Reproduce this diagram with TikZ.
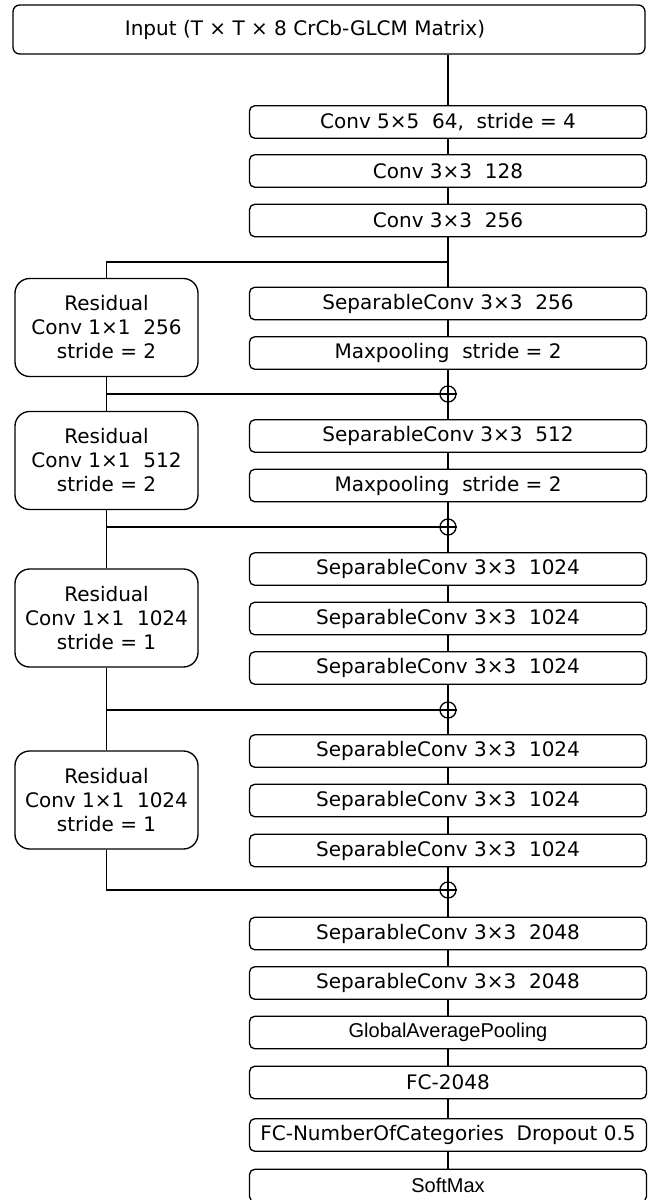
\documentclass[tikz,border=0pt]{standalone}
\usepackage{fontspec}
\setmainfont{DejaVu Sans}
\newfontfamily\arialfont{Liberation Sans}
\begin{document}
\begin{tikzpicture}[x=0.75pt,y=-0.75pt,line width=1pt,
  box/.style={draw,line width=1pt,rounded corners=4pt,minimum width=297.75pt,minimum height=24.4pt,inner sep=0pt,font=\fontsize{15}{18}\selectfont},
  inbox/.style={draw,line width=1pt,rounded corners=5pt,minimum width=474pt,minimum height=36.75pt,inner sep=0pt,font=\fontsize{15}{18}\selectfont},
  resbox/.style={draw,line width=1pt,rounded corners=11pt,minimum width=137.25pt,minimum height=73.5pt,inner sep=0pt,align=center,font=\fontsize{15}{18}\selectfont},
  sumnode/.style={draw,circle,line width=1pt,minimum size=12pt,inner sep=0pt},
  arialtext/.style={font=\fontsize{15}{18}\selectfont\arialfont}]
\useasboundingbox (0,0) rectangle (653,1200);
% main column
\node[inbox] (in) at (329,29.5) {Input (T × T × 8 CrCb-GLCM Matrix)\hspace*{36pt}};
\node[box] (c1) at (448,122) {Conv 5×5\ \ 64,\ \ stride = 4};
\node[box] (c2) at (448,171) {Conv 3×3\ \ 128};
\node[box] (c3) at (448,220.5) {Conv 3×3\ \ 256};
\node[box] (s1) at (448,303.5) {SeparableConv 3×3\ \ 256};
\node[box] (m1) at (448,353) {Maxpooling\ \ stride = 2};
\node[sumnode] (p1) at (448,394) {};
\node[box] (s2) at (448,436) {SeparableConv 3×3\ \ 512};
\node[box] (m2) at (448,485.5) {Maxpooling\ \ stride = 2};
\node[sumnode] (p2) at (448,527) {};
\node[box] (s3) at (448,569) {SeparableConv 3×3\ \ 1024};
\node[box] (s4) at (448,618.5) {SeparableConv 3×3\ \ 1024};
\node[box] (s5) at (448,668) {SeparableConv 3×3\ \ 1024};
\node[sumnode] (p3) at (448,710) {};
\node[box] (s6) at (448,751) {SeparableConv 3×3\ \ 1024};
\node[box] (s7) at (448,800.5) {SeparableConv 3×3\ \ 1024};
\node[box] (s8) at (448,850.5) {SeparableConv 3×3\ \ 1024};
\node[sumnode] (p4) at (448,890) {};
\node[box] (s9) at (448,933.5) {SeparableConv 3×3\ \ 2048};
\node[box] (s10) at (448,983) {SeparableConv 3×3\ \ 2048};
\node[box,arialtext] (gap) at (448,1032.5) {GlobalAveragePooling};
\node[box] (fc1) at (448,1082.5) {FC-2048};
\node[box] (fc2) at (448,1135) {FC-NumberOfCategories\ \ Dropout 0.5};
\node[box,arialtext] (sm) at (448,1185.5) {SoftMax};
% residual column
\node[resbox] (r1) at (106.5,327.5) {Residual\\Conv 1×1\ \ 256\\stride = 2};
\node[resbox] (r2) at (106.5,460.5) {Residual\\Conv 1×1\ \ 512\\stride = 2};
\node[resbox] (r3) at (106.5,618) {Residual\\Conv 1×1\ \ 1024\\stride = 1};
\node[resbox] (r4) at (106.5,800) {Residual\\Conv 1×1\ \ 1024\\stride = 1};
% junctions
\coordinate (b0) at (448,262);
\coordinate (j1) at (r1.south |- p1);
\coordinate (j2) at (r2.south |- p2);
\coordinate (j3) at (r3.south |- p3);
\coordinate (j4) at (r4.south |- p4);
% main connectors
\draw (in.south -| c1.north) -- (c1.north);
\draw (c1) -- (c2);
\draw (c2) -- (c3);
\draw (c3) -- (s1);
\draw (s1) -- (m1);
\draw (m1.south) -- (p1.north);
\draw (p1.north) -- (p1.south);
\draw (p1.south) -- (s2.north);
\draw (s2) -- (m2);
\draw (m2.south) -- (p2.north);
\draw (p2.north) -- (p2.south);
\draw (p2.south) -- (s3.north);
\draw (s3) -- (s4);
\draw (s4) -- (s5);
\draw (s5.south) -- (p3.north);
\draw (p3.north) -- (p3.south);
\draw (p3.south) -- (s6.north);
\draw (s6) -- (s7);
\draw (s7) -- (s8);
\draw (s8.south) -- (p4.north);
\draw (p4.north) -- (p4.south);
\draw (p4.south) -- (s9.north);
\draw (s9) -- (s10);
\draw (s10) -- (gap);
\draw (gap) -- (fc1);
\draw (fc1) -- (fc2);
\draw (fc2) -- (sm);
% residual connectors
\draw (b0) -| (r1.north);
\draw (r1.south) -- (j1) -- (p1.east);
\draw (j1) -- (r2.north);
\draw (r2.south) -- (j2) -- (p2.east);
\draw (j2) -- (r3.north);
\draw (r3.south) -- (j3) -- (p3.east);
\draw (j3) -- (r4.north);
\draw (r4.south) -- (j4) -- (p4.east);
\end{tikzpicture}
\end{document}
